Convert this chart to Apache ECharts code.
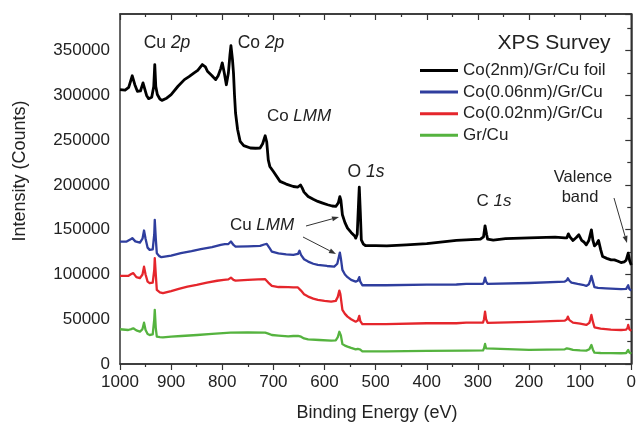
<!DOCTYPE html>
<html>
<head>
<meta charset="utf-8">
<script src="https://cdn.jsdelivr.net/npm/echarts@6/dist/echarts.min.js"></script>
<style>html,body{margin:0;padding:0;background:#fff}#c{width:639px;height:424px}</style>
</head>
<body>
<div id="c"></div>
<script>
// ---- data (binding energy eV, counts) ----
const seriesNames = ['Co(2nm)/Gr/Cu foil', 'Co(0.06nm)/Gr/Cu', 'Co(0.02nm)/Gr/Cu', 'Gr/Cu'];
const seriesColors = ['#000000', '#2f3e9e', '#e5262c', '#55b33f'];
const xTicks = [1000, 900, 800, 700, 600, 500, 400, 300, 200, 100, 0];
const yTicks = [0, 50000, 100000, 150000, 200000, 250000, 300000, 350000];

const foil = [[1000,306500],[990,306000],[983,309000],[976,322000],[971,312000],[966,304600],[960,305000],[955,314000],[952,312000],[948,300000],[944,296400],[938,298000],[934,310000],[932,334500],[930,310000],[927,301000],[922,296000],[918,294500],[910,296500],[900,301000],[887,310000],[874,317700],[865,321000],[855,325200],[848,328000],[839,334500],[833,332000],[829,327000],[820,322000],[813,317700],[808,322000],[803,330000],[800,336400],[796,325000],[792,312000],[788,325000],[785,345000],[783,355700],[780,340000],[778,325000],[776,300000],[774,280400],[770,262000],[765,248700],[758,244000],[745,241300],[735,241000],[726,241300],[721,246000],[716,255000],[713,248000],[710,228000],[707,220700],[700,215000],[687,204000],[675,201000],[661,198300],[652,197700],[647,200000],[644,197000],[640,192000],[632,187100],[622,184000],[613,181600],[605,180000],[594,177900],[585,176500],[578,176000],[573,180000],[570,187000],[568,183000],[565,166700],[560,158000],[555,151800],[548,147000],[545,146200],[541,143000],[539,140600],[536,145000],[533,185000],[532,197700],[530,170000],[528,138700],[524,134000],[520,132400],[500,132200],[478,132000],[440,133000],[400,134500],[342,138000],[323,138700],[295,139500],[289,142000],[286,154400],[283,145000],[281,139500],[270,138500],[246,140000],[200,140800],[149,141700],[130,140800],[126,141000],[123,145400],[120,142000],[114,138000],[108,141000],[102.5,144300],[97,138000],[92,136000],[88,133100],[83,138000],[78,149900],[75,138000],[72,132000],[68,134000],[64,138000],[60,128000],[56,120000],[48,118000],[39.5,116300],[33,116300],[27,115000],[20,113300],[14,114000],[10,116000],[6,123800],[3,115000],[0,110700]];

const co006 = [[1000,136800],[987,136800],[980,139000],[976,140600],[970,137000],[961,135700],[956,140000],[953,149100],[950,140000],[946,130000],[942,127500],[936,128000],[933,145000],[932,161100],[930,140000],[928,123800],[923,120500],[919,119300],[900,121000],[881,123800],[860,126000],[842,128300],[820,130500],[803,133100],[795,134000],[788,134000],[783,136800],[778,133000],[774,131200],[750,131500],[726,132000],[718,133500],[713,134200],[708,130000],[703,125600],[690,123500],[675,122500],[661,122000],[652,123000],[649,126500],[646,122000],[640,117000],[632,114400],[622,112000],[613,110700],[595,109500],[581,108800],[575,112000],[571,122000],[570,124500],[568,118000],[565,105100],[560,100000],[555,97000],[548,94000],[539,92100],[535,93000],[532,97000],[530,92000],[526,88000],[523,87200],[480,88000],[400,88700],[342,88800],[323,89500],[290,89500],[288,92000],[286,96500],[284,92000],[281,89500],[200,90500],[130,92100],[126,93500],[124,95800],[121,93000],[117,90900],[105,89500],[95,88500],[88,87200],[83,89000],[80,94000],[78,98400],[75,92000],[72,85800],[65,85000],[50,84500],[20,83600],[10,84000],[7,86000],[6,88000],[4,84000],[0,82000]];

const co002 = [[1000,98400],[984,98400],[978,100500],[974,101500],[968,97000],[961,95900],[956,100000],[953,108800],[950,100000],[946,92000],[942,90300],[936,91000],[933,105000],[932,118200],[930,100000],[928,82800],[922,80000],[916,79100],[900,81500],[885,84000],[868,86500],[850,88500],[830,91000],[810,93000],[797,94000],[788,94500],[783,96500],[778,94000],[774,93200],[750,94000],[730,94500],[716,94700],[710,91000],[703,87200],[690,86000],[671,85800],[661,85500],[652,85500],[649,87200],[646,82000],[640,78000],[632,75300],[622,73000],[613,71600],[600,70500],[587,69700],[578,70500],[574,75000],[571,82000],[569,78000],[565,60400],[560,56000],[555,52900],[548,50000],[539,47300],[535,48500],[532,53700],[530,48000],[526,44500],[523,43600],[480,44500],[400,45500],[342,45500],[323,46200],[290,46300],[288,50000],[286,58500],[284,50000],[281,46000],[200,47000],[130,48400],[126,50000],[124,52900],[121,49000],[114,46200],[100,45000],[88,43600],[82,46000],[80,50000],[78,54800],[75,47000],[72,41000],[60,39500],[40,38500],[20,38000],[10,38500],[7,41000],[6,43600],[4,39000],[0,37000]];

const grcu = [[1000,38800],[984,38000],[978,39000],[974,39900],[968,37500],[961,36100],[956,39000],[953,46200],[950,38000],[946,33500],[942,32400],[936,33000],[933,50000],[932,60400],[930,40000],[928,30500],[922,30000],[916,29800],[900,30500],[880,31300],[849,32400],[820,33600],[784,35000],[750,35300],[716,35000],[710,34000],[703,32400],[690,31800],[671,30800],[661,31300],[652,31500],[649,33600],[646,30500],[640,28500],[632,27600],[610,26800],[587,26100],[578,26500],[574,30000],[571,36000],[570,37300],[568,32000],[565,22400],[560,20500],[555,19400],[548,18000],[539,16400],[535,17000],[532,18700],[530,16000],[526,14200],[523,13800],[480,14200],[400,14600],[323,14900],[290,15200],[288,17500],[286,22400],[284,17500],[281,15700],[200,15800],[130,16400],[126,17500],[124,19400],[121,17000],[114,15800],[100,15200],[88,14900],[82,16500],[80,18500],[78,21300],[75,16000],[72,12600],[60,12300],[40,12100],[20,12000],[10,12300],[7,14500],[6,15700],[4,13000],[0,11500]];

const allData = [foil, co006, co002, grcu];

// ---- chart ----
const FONT = '"Liberation Sans", Arial, sans-serif';
const TXT = '#222';
const AX = '#333';
const chart = echarts.init(document.getElementById('c'), null, {renderer: 'canvas'});

function arrow(x1, y1, x2, y2) {
  const ang = Math.atan2(y2 - y1, x2 - x1);
  const L = 7, W = 2.5;
  const bx = x2 - L * Math.cos(ang), by = y2 - L * Math.sin(ang);
  const px = -Math.sin(ang) * W, py = Math.cos(ang) * W;
  return [
    {type: 'line', shape: {x1: x1, y1: y1, x2: bx, y2: by}, style: {stroke: '#333', lineWidth: 1}, z: 10},
    {type: 'polygon', shape: {points: [[x2, y2], [bx + px, by + py], [bx - px, by - py]]}, style: {fill: '#333'}, z: 10}
  ];
}
function label(x, y, parts, size) {
  const rich = {n: {fontFamily: FONT, fontSize: size, fill: TXT, color: TXT}, i: {fontFamily: FONT, fontSize: size, fontStyle: 'italic', fill: TXT, color: TXT}};
  return {type: 'text', x: x, y: y, z: 10,
    style: {text: parts, rich: rich, fontFamily: FONT, fontSize: size, fill: TXT, align: 'center', verticalAlign: 'middle'}};
}

const xFmt = v => String(v);
const yFmt = v => (v % 50000 === 0 ? String(v) : '');

chart.setOption({
  animation: false,
  backgroundColor: '#fff',
  grid: {left: 120, right: 3, top: 14, bottom: 60, show: true, borderColor: AX, borderWidth: 1.5},
  legend: {
    orient: 'vertical', left: 415, top: 57, icon: 'rect', itemWidth: 38, itemHeight: 3, itemGap: 4.6,
    textStyle: {fontFamily: FONT, fontSize: 17, color: TXT},
    data: seriesNames
  },
  xAxis: [
    {type: 'value', min: 0, max: 1000, interval: 100, inverse: true, position: 'bottom',
     axisLine: {show: true, lineStyle: {color: AX, width: 1.5}},
     axisTick: {show: true, inside: false, length: 6, lineStyle: {color: AX, width: 1.2}},
     minorTick: {show: true, splitNumber: 2, length: 3, lineStyle: {color: AX, width: 1.2}},
     splitLine: {show: false},
     axisLabel: {fontFamily: FONT, fontSize: 17, color: TXT, margin: 10, formatter: xFmt, showMinLabel: true, showMaxLabel: true}},
    {type: 'value', min: 0, max: 1000, interval: 100, inverse: true, position: 'top',
     axisLine: {show: true, lineStyle: {color: AX, width: 1.5}},
     axisTick: {show: true, inside: true, length: 6, lineStyle: {color: AX, width: 1.2}},
     minorTick: {show: true, splitNumber: 2, length: 3, lineStyle: {color: AX, width: 1.2}},
     splitLine: {show: false}, axisLabel: {show: false}}
  ],
  yAxis: [
    {type: 'value', min: 0, max: 391000, interval: 50000,
     axisLine: {show: true, lineStyle: {color: AX, width: 1.5}},
     axisTick: {show: true, inside: false, length: 6, lineStyle: {color: AX, width: 1.2}},
     minorTick: {show: true, splitNumber: 2, length: 4, lineStyle: {color: AX, width: 1.2}},
     splitLine: {show: false},
     axisLabel: {fontFamily: FONT, fontSize: 17, color: TXT, margin: 10, formatter: yFmt}}
  ],
  series: seriesNames.map((n, i) => ({
    name: n, type: 'line', data: allData[i], showSymbol: false, symbol: 'none',
    lineStyle: {color: seriesColors[i], width: i === 0 ? 2.8 : 2.3, join: 'round'},
    itemStyle: {color: seriesColors[i]}, z: 5 - i
  })),
  graphic: [].concat(
    [
      {type: 'text', x: 20, y: 171, rotation: Math.PI / 2, z: 10,
       style: {text: 'Intensity (Counts)', fontFamily: FONT, fontSize: 18, fill: TXT, align: 'center', verticalAlign: 'middle'}},
      {type: 'text', x: 377, y: 413, z: 10,
       style: {text: 'Binding Energy (eV)', fontFamily: FONT, fontSize: 18, fill: TXT, align: 'center', verticalAlign: 'middle'}},
      label(554, 43, '{n|XPS Survey}', 21),
      label(167, 43, '{n|Cu }{i|2p}', 17.5),
      label(261, 43, '{n|Co }{i|2p}', 17.5),
      label(299, 116, '{n|Co }{i|LMM}', 17),
      label(366, 172, '{n|O }{i|1s}', 17.5),
      label(494, 201, '{n|C }{i|1s}', 17),
      label(583, 177, '{n|Valence}', 16.5),
      label(580, 197, '{n|band}', 16.5),
      label(262, 225, '{n|Cu }{i|LMM}', 17)
    ],
    arrow(614, 198, 627, 243),
    arrow(306, 226, 339, 217),
    arrow(303, 237, 336, 254)
  )
});
</script>
</body>
</html>
